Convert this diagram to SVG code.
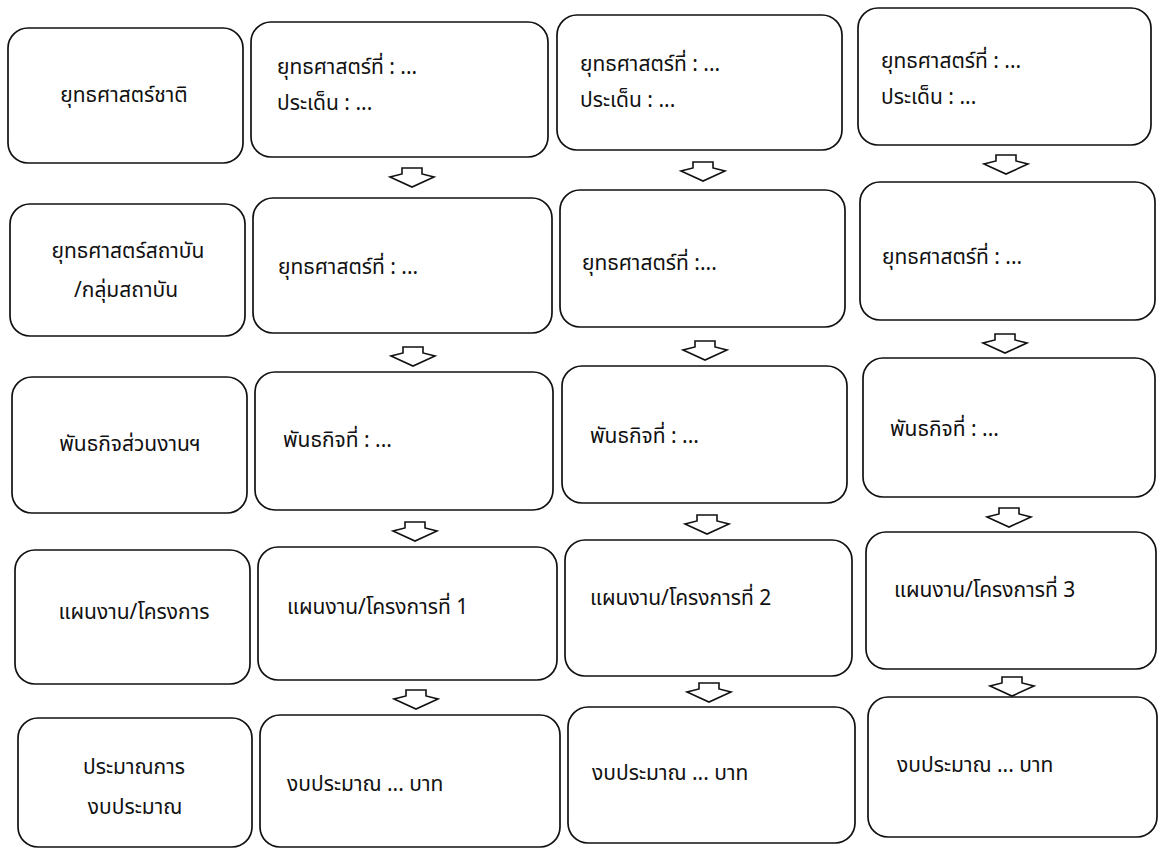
<svg xmlns="http://www.w3.org/2000/svg" width="1158" height="849" viewBox="0 0 1158 849">
<style>
.box{fill:#fff;stroke:#111;stroke-width:1.7}
.t{font-family:"Noto Sans Thai","Noto Sans","DejaVu Sans",sans-serif;font-size:21px;fill:#111}
.c{text-anchor:middle}
.arr{fill:#fff;stroke:#111;stroke-width:1.6;stroke-linejoin:miter}
</style>
<defs>
<polygon id="ar" points="-10,0 10,0 10,6 22,9 0,19 -22,9 -10,6"/>
</defs>
<rect width="1158" height="849" fill="#fff"/>
<g id="connectors">
<use href="#ar" class="arr" x="412" y="168"/>
<use href="#ar" class="arr" x="703" y="162"/>
<use href="#ar" class="arr" x="1006" y="155"/>
<use href="#ar" class="arr" x="413" y="347"/>
<use href="#ar" class="arr" x="705" y="341"/>
<use href="#ar" class="arr" x="1005" y="334"/>
<use href="#ar" class="arr" x="415" y="522"/>
<use href="#ar" class="arr" x="707" y="515"/>
<use href="#ar" class="arr" x="1009" y="508"/>
<use href="#ar" class="arr" x="416" y="690"/>
<use href="#ar" class="arr" x="709" y="683"/>
<use href="#ar" class="arr" x="1012" y="677"/>
</g>
<g id="r1c0"><rect class="box" x="8" y="28" width="235" height="135" rx="20"/><text class="t c" x="124" y="102">ยุทธศาสตร์ชาติ</text></g>
<g id="r1c1"><rect class="box" x="251" y="22" width="297" height="135" rx="20"/><text class="t" x="277" y="74">ยุทธศาสตร์ที่ : ...</text><text class="t" x="277" y="110">ประเด็น : ...</text></g>
<g id="r1c2"><rect class="box" x="557" y="15" width="285" height="135" rx="20"/><text class="t" x="580" y="71">ยุทธศาสตร์ที่ : ...</text><text class="t" x="580" y="107">ประเด็น : ...</text></g>
<g id="r1c3"><rect class="box" x="858" y="8" width="293" height="137" rx="20"/><text class="t" x="881" y="68">ยุทธศาสตร์ที่ : ...</text><text class="t" x="881" y="104">ประเด็น : ...</text></g>

<g id="r2c0"><rect class="box" x="10" y="204" width="235" height="132" rx="20"/><text class="t c" x="128" y="258">ยุทธศาสตร์สถาบัน</text><text class="t c" x="126" y="297">/กลุ่มสถาบัน</text></g>
<g id="r2c1"><rect class="box" x="253" y="198" width="299" height="135" rx="20"/><text class="t" x="278" y="274">ยุทธศาสตร์ที่ : ...</text></g>
<g id="r2c2"><rect class="box" x="560" y="190" width="285" height="137" rx="20"/><text class="t" x="582" y="270">ยุทธศาสตร์ที่ :...</text></g>
<g id="r2c3"><rect class="box" x="860" y="182" width="295" height="138" rx="20"/><text class="t" x="882" y="264">ยุทธศาสตร์ที่ : ...</text></g>

<g id="r3c0"><rect class="box" x="12" y="377" width="235" height="136" rx="20"/><text class="t c" x="130" y="451">พันธกิจส่วนงานฯ</text></g>
<g id="r3c1"><rect class="box" x="255" y="372" width="298" height="138" rx="20"/><text class="t" x="283" y="447">พันธกิจที่ : ...</text></g>
<g id="r3c2"><rect class="box" x="562" y="366" width="285" height="137" rx="20"/><text class="t" x="590" y="443">พันธกิจที่ : ...</text></g>
<g id="r3c3"><rect class="box" x="863" y="358" width="292" height="139" rx="20"/><text class="t" x="890" y="436">พันธกิจที่ : ...</text></g>

<g id="r4c0"><rect class="box" x="15" y="550" width="235" height="134" rx="20"/><text class="t c" x="134" y="619">แผนงาน/โครงการ</text></g>
<g id="r4c1"><rect class="box" x="258" y="547" width="299" height="133" rx="20"/><text class="t" x="287" y="614">แผนงาน/โครงการที่ 1</text></g>
<g id="r4c2"><rect class="box" x="565" y="540" width="287" height="136" rx="20"/><text class="t" x="590" y="605">แผนงาน/โครงการที่ 2</text></g>
<g id="r4c3"><rect class="box" x="866" y="532" width="290" height="137" rx="20"/><text class="t" x="894" y="597">แผนงาน/โครงการที่ 3</text></g>

<g id="r5c0"><rect class="box" x="18" y="718" width="234" height="129" rx="20"/><text class="t c" x="134" y="774">ประมาณการ</text><text class="t c" x="135" y="814">งบประมาณ</text></g>
<g id="r5c1"><rect class="box" x="260" y="715" width="300" height="132" rx="20"/><text class="t" x="287" y="791">งบประมาณ ... บาท</text></g>
<g id="r5c2"><rect class="box" x="568" y="707" width="287" height="136" rx="20"/><text class="t" x="592" y="780">งบประมาณ ... บาท</text></g>
<g id="r5c3"><rect class="box" x="868" y="697" width="289" height="140" rx="20"/><text class="t" x="897" y="772">งบประมาณ ... บาท</text></g>
</svg>
